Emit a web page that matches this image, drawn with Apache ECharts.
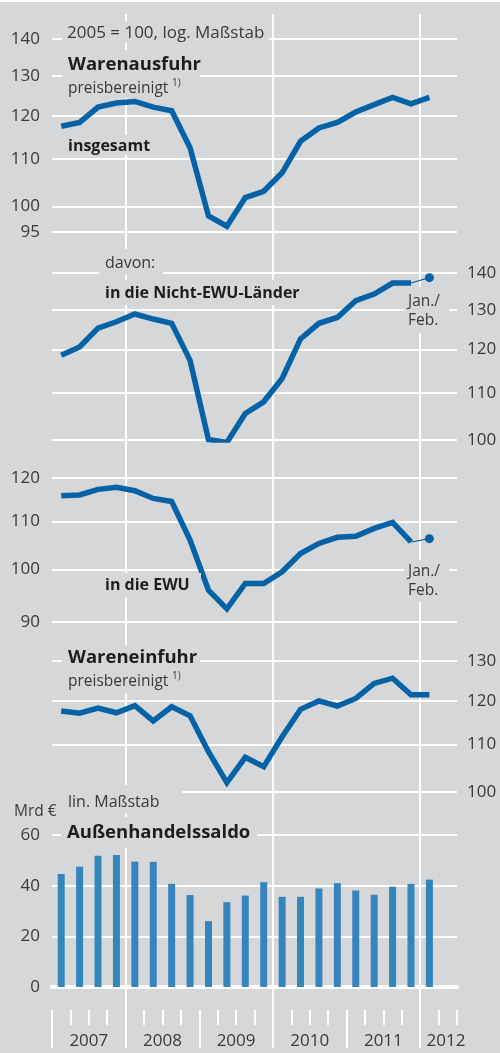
<!DOCTYPE html>
<html>
<head>
<meta charset="utf-8">
<script src="https://cdn.jsdelivr.net/npm/echarts@6/dist/echarts.min.js"></script>
<style>
html, body { margin: 0; padding: 0; background: #d6d7d9; }
#chart { width: 500px; height: 1053px; }
</style>
</head>
<body>
<div id="chart"></div>
<script>
// Quartale 2007 Q1 .. 2012 Q2 (letztes Quartal leer)
const quarters = ['2007 Q1', '2007 Q2', '2007 Q3', '2007 Q4', '2008 Q1', '2008 Q2', '2008 Q3', '2008 Q4',
  '2009 Q1', '2009 Q2', '2009 Q3', '2009 Q4', '2010 Q1', '2010 Q2', '2010 Q3', '2010 Q4',
  '2011 Q1', '2011 Q2', '2011 Q3', '2011 Q4', '2012 Q1', '2012 Q2']
const years = ['2007', '2008', '2009', '2010', '2011', '2012']

// Warenausfuhr insgesamt, 2005 = 100
const exportTotal = [117.5, 118.4, 122.1, 123.1, 123.5, 122.1, 121.2, 112.5, 98.1, 96.1, 101.8,
  103.1, 107.0, 114.0, 117.1, 118.4, 120.9, 122.7, 124.5, 122.9, 124.5]
// in die Nicht-EWU-Länder (bis 2011 Q4) und Jan./Feb. 2012
const exportNonEmu = [118.6, 120.6, 125.3, 126.9, 128.9, 127.6, 126.5, 117.4, 100.1, 99.5, 105.5,
  108.0, 113.2, 122.6, 126.5, 128.0, 132.4, 134.2, 137.2, 137.2]
const exportNonEmuJanFeb = 138.7
// in die EWU
const exportEmu = [115.8, 116.0, 117.3, 117.8, 117.0, 115.2, 114.5, 106.0, 95.9, 92.4, 97.2,
  97.2, 99.5, 103.2, 105.3, 106.6, 106.8, 108.5, 109.8, 105.6]
const exportEmuJanFeb = 106.3
// Wareneinfuhr
const imports = [117.6, 117.1, 118.3, 117.2, 118.9, 115.3, 118.6, 116.5, 108.4, 101.9, 107.2,
  105.2, 111.7, 118.0, 120.0, 118.8, 120.6, 124.3, 125.6, 121.5, 121.5]
// Außenhandelssaldo, Mrd €
const tradeBalance = [44.6, 47.5, 51.8, 52.1, 49.5, 49.4, 40.7, 36.3, 26.0, 33.5, 36.1,
  41.4, 35.6, 35.6, 38.9, 41.0, 38.1, 36.4, 39.6, 40.7, 42.4]

// Achsenbeschriftungen
const ticksTotal = [95, 100, 110, 120, 130, 140]
const ticksNonEmu = [100, 110, 120, 130, 140]
const ticksEmu = [90, 100, 110, 120]
const ticksImports = [100, 110, 120, 130]

const BG = '#d6d7d9'
const BLUE = '#0662a6'
const BAR = '#3585bd'
const TXT = '#3a3a3a'
const FONT = '"Open Sans", "DejaVu Sans", sans-serif'

// log. Maßstab: Werte logarithmiert auf eine lineare Achse
const ln = v => (v == null ? null : Math.log(v))

const grids = [
  { left: 52, right: 43, top: 39, height: 193 },
  { left: 52, right: 43, top: 273, height: 167 },
  { left: 52, right: 43, top: 478, height: 144 },
  { left: 52, right: 43, top: 661, height: 131 },
  { left: 52, right: 43, top: 835, height: 152 },
  { left: 52, right: 43, top: 14, height: 996 }
]

const gridLine = { show: true, lineStyle: { color: '#fff', width: 2 } }

const logAxis = (gi, ticks, pos) => ({
  type: 'value',
  gridIndex: gi,
  position: pos,
  min: ln(ticks[0]),
  max: ln(ticks[ticks.length - 1]),
  axisLine: { show: false },
  axisTick: { show: false, customValues: ticks.map(ln) },
  axisLabel: {
    customValues: ticks.map(ln),
    formatter: v => String(Math.round(Math.exp(v))),
    margin: pos === 'left' ? 12 : 10,
    fontSize: 17,
    color: TXT,
    fontFamily: FONT
  },
  splitLine: gridLine
})

const catAxis = gi => ({
  type: 'category',
  gridIndex: gi,
  data: quarters,
  boundaryGap: true,
  show: false
})

// Jan./Feb.-Wert: dünne Verbindung vom letzten Quartal zum Punkt
const janFebData = (arr, v) => quarters.map((q, i) => {
  if (i === arr.length - 1) return { value: ln(arr[i]), symbol: 'none' }
  if (i === arr.length) return ln(v)
  return null
})

const lineSeries = (gi, arr) => ({
  type: 'line',
  xAxisIndex: gi,
  yAxisIndex: gi,
  data: arr.map(ln),
  symbol: 'none',
  lineStyle: { color: BLUE, width: 5.5, join: 'miter' },
  z: 3
})

const janFebSeries = (gi, arr, v) => ({
  type: 'line',
  xAxisIndex: gi,
  yAxisIndex: gi,
  data: janFebData(arr, v),
  symbol: 'circle',
  symbolSize: 9,
  showAllSymbol: true,
  itemStyle: { color: BLUE },
  lineStyle: { color: BLUE, width: 1.2 },
  z: 3
})

// Textblöcke mit grauem Hintergrund (verdecken die Gitterlinien)
const box = (x, y, w, h) => ({ type: 'rect', shape: { x, y, width: w, height: h }, style: { fill: BG }, z: 10 })
const label = (x, y, text, size, bold, color) => ({
  type: 'text', x, y, z: 11,
  style: {
    text,
    font: (bold ? 'bold ' : '') + size + 'px ' + FONT,
    fill: color || (bold ? '#1e1e1e' : TXT),
    verticalAlign: 'middle',
    align: 'left'
  }
})

const myChart = echarts.init(document.getElementById('chart'))

const option = {
  backgroundColor: BG,
  animation: false,
  grid: grids,
  xAxis: [
    catAxis(0), catAxis(1), catAxis(2), catAxis(3),
    {
      type: 'category', gridIndex: 4, data: quarters, boundaryGap: true,
      axisLine: { show: true, lineStyle: { color: '#fff', width: 4 } },
      axisTick: { show: false },
      axisLabel: { show: false },
      splitLine: { show: false }
    },
    // senkrechte Linien an 2008, 2010, 2012
    {
      type: 'value', gridIndex: 5, position: 'bottom', min: 0, max: 22,
      axisLine: { show: false },
      axisTick: { show: true, customValues: [4, 12, 20], length: 38, lineStyle: { color: '#fff', width: 2 } },
      axisLabel: { show: false },
      splitLine: gridLine
    },
    // Jahresstriche und Jahreszahlen
    {
      type: 'value', gridIndex: 5, position: 'bottom', min: 0, max: 22,
      axisLine: { show: false },
      axisTick: { show: true, customValues: [0, 8, 16], length: 38, lineStyle: { color: '#fff', width: 2 } },
      axisLabel: {
        customValues: [2, 6, 10, 14, 18, 21.4],
        formatter: v => years[Math.floor(v / 4)],
        margin: 23, fontSize: 17, color: TXT, fontFamily: FONT
      },
      splitLine: { show: false }
    },
    // Quartalsstriche
    {
      type: 'value', gridIndex: 5, position: 'bottom', min: 0, max: 22,
      axisLine: { show: false },
      axisTick: {
        show: true,
        customValues: [1, 2, 3, 5, 6, 7, 9, 10, 11, 13, 14, 15, 17, 18, 19, 21, 22],
        length: 15, lineStyle: { color: '#fff', width: 2 }
      },
      axisLabel: { show: false },
      splitLine: { show: false }
    }
  ],
  yAxis: [
    logAxis(0, ticksTotal, 'left'),
    logAxis(1, ticksNonEmu, 'right'),
    logAxis(2, ticksEmu, 'left'),
    logAxis(3, ticksImports, 'right'),
    {
      type: 'value', gridIndex: 4, min: 0, max: 60, interval: 20,
      axisLine: { show: false },
      axisTick: { show: false },
      axisLabel: { margin: 12, fontSize: 17, color: TXT, fontFamily: FONT },
      splitLine: gridLine
    },
    { type: 'value', gridIndex: 5, min: 0, max: 1, show: false }
  ],
  series: [
    lineSeries(0, exportTotal),
    lineSeries(1, exportNonEmu),
    janFebSeries(1, exportNonEmu, exportNonEmuJanFeb),
    lineSeries(2, exportEmu),
    janFebSeries(2, exportEmu, exportEmuJanFeb),
    lineSeries(3, imports),
    {
      type: 'bar',
      xAxisIndex: 4,
      yAxisIndex: 4,
      data: tradeBalance,
      barWidth: 7,
      itemStyle: { color: BAR },
      z: 1
    }
  ],
  graphic: [
    { type: 'rect', shape: { x: 0, y: 0, width: 500, height: 2 }, style: { fill: '#fff' }, z: 10 },
    box(62, 21, 207, 22),
    label(67, 33, '2005 = 100, log. Maßstab', 17),
    box(62, 50, 138, 48),
    label(68, 65, 'Warenausfuhr', 18.5, true),
    label(68, 89, 'preisbereinigt', 15.5),
    label(172, 83, '1)', 10),
    box(62, 135, 92, 20),
    label(68, 146, 'insgesamt', 16, true),
    box(99, 249, 64, 26),
    label(105, 263, 'davon:', 16),
    box(99, 280, 212, 25),
    label(105, 293, 'in die Nicht-EWU-Länder', 16, true),
    box(404, 287, 45, 46),
    label(408, 302, 'Jan./', 15.5),
    label(408, 321, 'Feb.', 15.5),
    box(99, 573, 102, 24),
    label(105, 585, 'in die EWU', 16, true),
    box(404, 560, 45, 42),
    label(408, 572, 'Jan./', 15.5),
    label(408, 591, 'Feb.', 15.5),
    box(62, 645, 138, 48),
    label(68, 658, 'Wareneinfuhr', 18.5, true),
    label(68, 682, 'preisbereinigt', 15.5),
    label(172, 676, '1)', 10),
    box(52, 785, 130, 28),
    label(68, 802, 'lin. Maßstab', 16),
    label(14, 812, 'Mrd €', 15.5),
    box(61, 817, 196, 31),
    label(67, 833, 'Außenhandelssaldo', 18.5, true)
  ]
}

option && myChart.setOption(option)
</script>
</body>
</html>
